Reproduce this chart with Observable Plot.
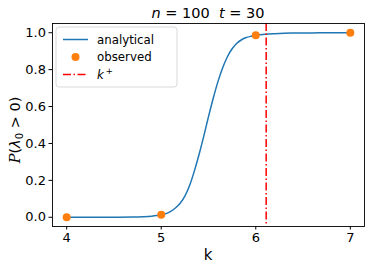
<!DOCTYPE html>
<html><head><meta charset="utf-8">
<script src="https://cdn.jsdelivr.net/npm/d3@7"></script>
<script src="https://cdn.jsdelivr.net/npm/@observablehq/plot@0.6"></script>
<style>
body{margin:0;background:#fff}
svg{font-family:"DejaVu Sans",sans-serif;overflow:visible}
</style>
</head><body><div id="chart"></div>
<script>
// analytical curve
const kAnalytical = [4.0, 4.3, 4.5, 4.7, 4.8, 4.9, 4.95, 5.0, 5.05, 5.1, 5.15, 5.2, 5.25, 5.3, 5.35, 5.4, 5.45, 5.5, 5.55, 5.6, 5.65, 5.7, 5.75, 5.8, 5.85, 5.9, 5.95, 6.0, 6.1, 6.2, 6.3, 6.4, 6.6, 6.8, 7.0];
const pAnalytical = [0.0, 0.0, 0.0005, 0.0015, 0.003, 0.006, 0.009, 0.013, 0.02, 0.032, 0.05, 0.076, 0.115, 0.172, 0.25, 0.34, 0.44, 0.545, 0.645, 0.735, 0.81, 0.87, 0.913, 0.943, 0.962, 0.974, 0.981, 0.986, 0.992, 0.995, 0.997, 0.998, 0.999, 1.0, 1.0];
// observed points
const kObserved = [4, 5, 6, 7];
const pObserved = [0.0, 0.013, 0.987, 1.0];
// threshold k+
const kPlus = [6.11];
const xTicks = [4, 5, 6, 7];
const yTicks = [0.0, 0.2, 0.4, 0.6, 0.8, 1.0];
const legendLabels = ["analytical", "observed", "k"];

const curve = kAnalytical.map((k, i) => ({k, p: pAnalytical[i]}));
const obs = kObserved.map((k, i) => ({k, p: pObserved[i]}));

const blue = "#1f77b4", orange = "#ff7f0e", red = "#ff0000";

const chart = Plot.plot({
  width: 374, height: 270,
  marginLeft: 52, marginRight: 10, marginTop: 23, marginBottom: 44,
  style: {fontFamily: "DejaVu Sans, sans-serif", fontSize: "13px", color: "#000", background: "#fff"},
  x: {domain: [3.85, 7.15]},
  y: {domain: [-0.05, 1.05]},
  marks: [
    Plot.line(curve, {x: "k", y: "p", stroke: blue, strokeWidth: 1.5, curve: "monotone-x"}),
    Plot.dot(obs, {x: "k", y: "p", r: 4, fill: orange, stroke: "none"}),
    Plot.ruleX(kPlus, {stroke: red, strokeWidth: 1.5, strokeDasharray: "8,2.5,1.5,2.5"}),
    Plot.frame({stroke: "#000", strokeWidth: 0.9}),
    Plot.axisX({ticks: xTicks, tickSize: 3.5, tickPadding: 3, tickFormat: d3.format("d"), label: null}),
    Plot.axisY({ticks: yTicks, tickSize: 3.5, tickPadding: 3, tickFormat: d3.format(".1f"), label: null})
  ]
});
document.getElementById("chart").appendChild(chart);

const svg = d3.select(chart);
svg.selectAll('[aria-label$="tick label"]').attr("font-size", 13).style("font-size", "13px")
  .selectAll("text").attr("font-size", 13);

// title
const t = svg.append("text").attr("x", 208).attr("y", 18).attr("text-anchor", "middle")
  .attr("font-size", 14.5).attr("fill", "#000");
t.append("tspan").attr("font-style", "italic").text("n");
t.append("tspan").text(" = 100  ");
t.append("tspan").attr("font-style", "italic").text("t");
t.append("tspan").text(" = 30");

// x label
svg.append("text").attr("x", 208).attr("y", 260).attr("text-anchor", "middle")
  .attr("font-size", 15).attr("fill", "#000").text("k");

// y label
const yl = svg.append("text").attr("transform", "translate(20,130) rotate(-90)")
  .attr("text-anchor", "middle").attr("font-size", 14.5).attr("fill", "#000");
yl.append("tspan").attr("font-family", "DejaVu Serif").attr("font-style", "italic").text("P");
yl.append("tspan").text("(");
yl.append("tspan").attr("font-style", "italic").text("λ");
yl.append("tspan").attr("font-size", 10).attr("dy", 3).text("0");
yl.append("tspan").attr("dy", -3).text(" > 0)");

// legend
const lg = svg.append("g").attr("text-anchor", "start");
lg.append("rect").attr("x", 56).attr("y", 27).attr("width", 121).attr("height", 60).attr("rx", 3)
  .attr("fill", "#fff").attr("fill-opacity", 0.8).attr("stroke", "#d5d5d5").attr("stroke-width", 0.9);
const rows = [39.5, 57, 74.5];
lg.append("line").attr("x1", 63).attr("x2", 88).attr("y1", rows[0]).attr("y2", rows[0])
  .attr("stroke", blue).attr("stroke-width", 1.5);
lg.append("circle").attr("cx", 75.5).attr("cy", rows[1]).attr("r", 4).attr("fill", orange);
lg.append("line").attr("x1", 63).attr("x2", 88).attr("y1", rows[2]).attr("y2", rows[2])
  .attr("stroke", red).attr("stroke-width", 1.5).attr("stroke-dasharray", "8,2.5,1.5,2.5");
legendLabels.forEach((s, i) => {
  const tx = lg.append("text").attr("x", 97).attr("y", rows[i]).attr("dy", "0.35em")
    .attr("text-anchor", "start").attr("font-size", 11.8).attr("fill", "#000");
  if (i === 2) {
    tx.append("tspan").attr("font-style", "italic").text("k");
    tx.append("tspan").attr("font-size", 8.5).attr("dy", -5).attr("dx", 2).text("+");
  } else tx.text(s);
});
</script>
</body></html>
